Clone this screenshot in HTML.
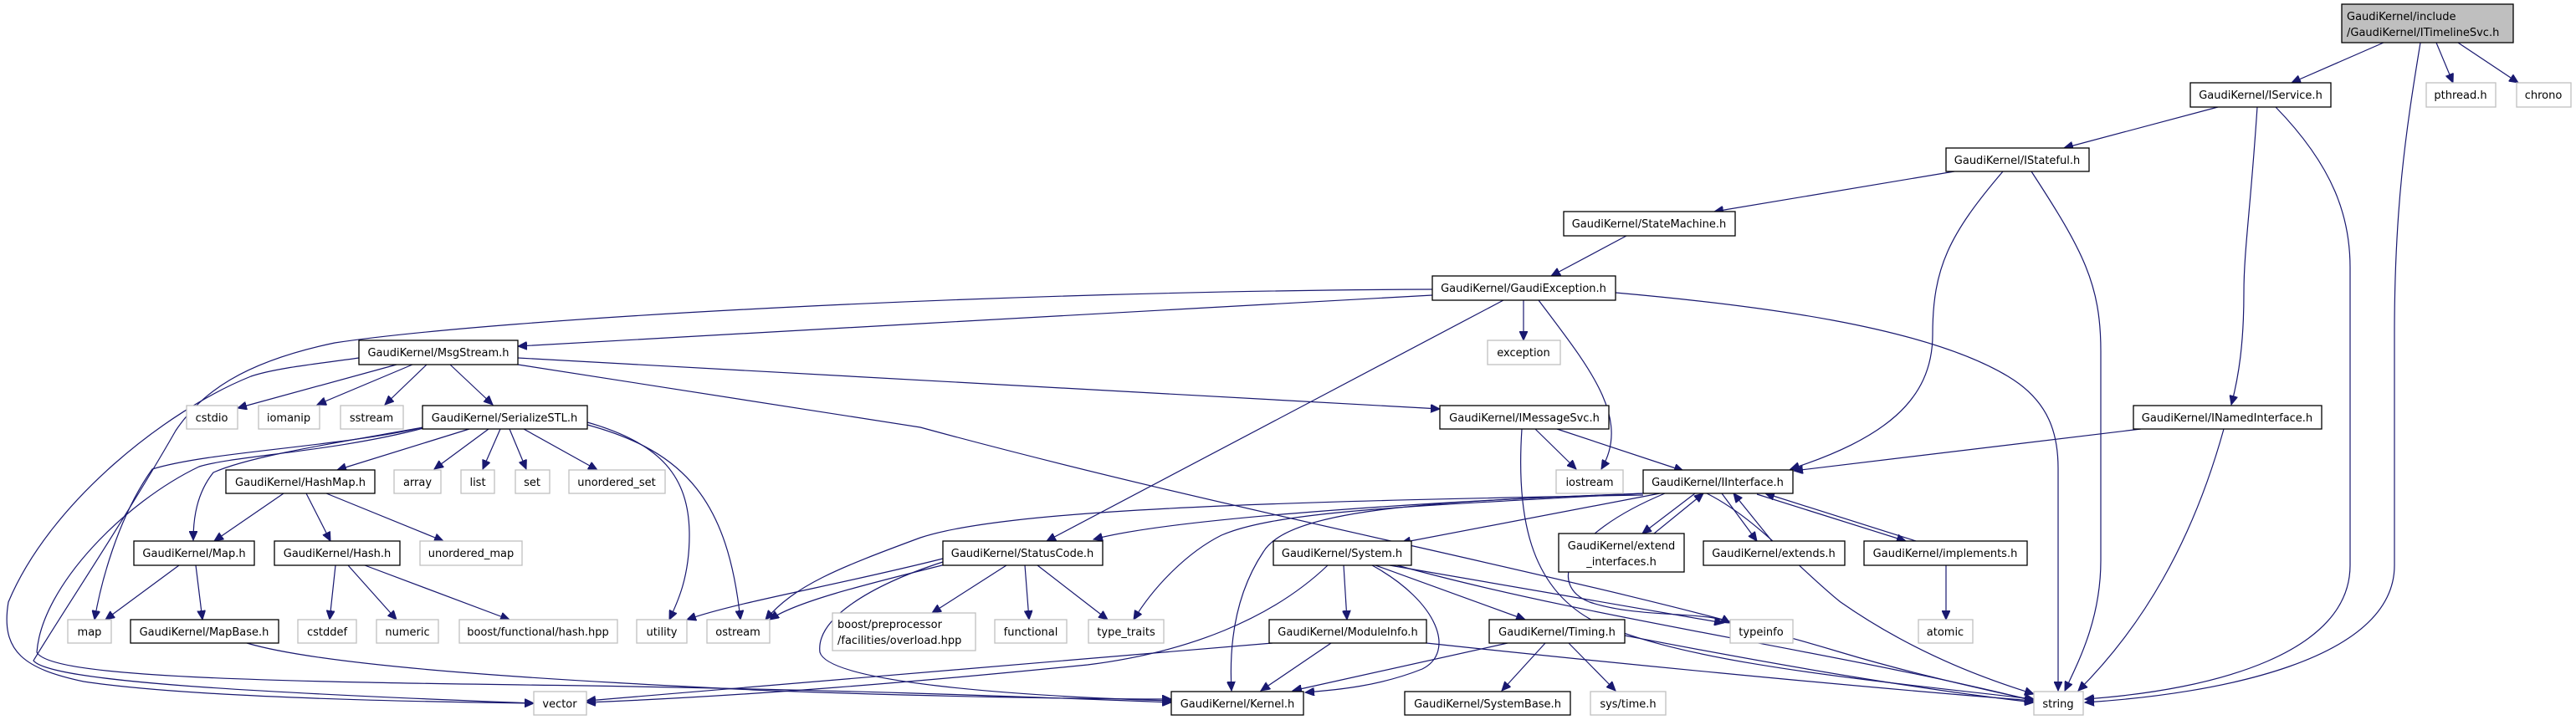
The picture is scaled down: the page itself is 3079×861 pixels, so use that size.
<!DOCTYPE html>
<html><head><meta charset="utf-8"><style>
html,body{margin:0;padding:0;background:#fff}
svg{display:block}
text{font-family:"DejaVu Sans","Liberation Sans",sans-serif;font-size:13px;fill:#000}
.b{fill:#fff;stroke:#000;stroke-width:1.3}
.g{fill:#fff;stroke:#bfbfbf;stroke-width:1.3}
.r{fill:#bfbfbf;stroke:#000;stroke-width:1.3}
path.e{fill:none;stroke:#191970;stroke-width:1.2;marker-end:url(#a)}
</style></head><body>
<svg width="3079" height="861" viewBox="0 0 3079 861" xmlns="http://www.w3.org/2000/svg">
<defs><marker id="a" markerUnits="userSpaceOnUse" markerWidth="12" markerHeight="10" refX="11" refY="5" orient="auto"><path d="M0,0 L11,5 L0,10 z" fill="#191970" stroke="#191970"/></marker></defs>

<!-- edges -->
<path class="e" d="M2849,51 L2739,99"/>
<path class="e" d="M2912,51 L2932,99"/>
<path class="e" d="M2938,51 L3010,99"/>
<path class="e" d="M2893,51 C2875,160 2862,250 2862,400 L2862,676 C2862,790 2650,830 2492,840"/>
<path class="e" d="M2651,128 L2467,177"/>
<path class="e" d="M2698,128 C2690,250 2682,300 2682,350 C2682,410 2676,450 2667,484"/>
<path class="e" d="M2720,128 C2790,200 2809,260 2809,320 L2809,676 C2809,780 2650,825 2492,836"/>
<path class="e" d="M2336,205 L2049,253"/>
<path class="e" d="M2394,205 C2330,280 2310,320 2310,400 C2310,480 2250,525 2140,561"/>
<path class="e" d="M2428,205 C2490,300 2511,340 2511,420 L2511,670 C2511,740 2485,790 2468,826"/>
<path class="e" d="M1944,282 L1854,330"/>
<path class="e" d="M1821,359 L1821,407"/>
<path class="e" d="M1839,359 C1900,440 1950,500 1914,561"/>
<path class="e" d="M1797,359 L1251,647"/>
<path class="e" d="M1931,350 C2100,365 2300,390 2400,450 C2450,480 2460,520 2460,560 L2460,826"/>
<path class="e" d="M1712,353 L1100,387 L619,414"/>
<path class="e" d="M1712,346 C1200,348 600,380 400,410 C290,433 240,470 210,515 C150,620 70,740 40,790 C60,815 300,828 638,841"/>
<path class="e" d="M429,428 C380,435 330,440 300,450 C200,490 60,600 10,720 C0,780 30,800 100,815 C200,830 400,838 638,841"/>
<path class="e" d="M474,436 L284,488"/>
<path class="e" d="M493,436 L379,484"/>
<path class="e" d="M510,436 L460,484"/>
<path class="e" d="M538,436 L589,484"/>
<path class="e" d="M619,428 L1721,489"/>
<path class="e" d="M619,436 L1100,511 C1500,620 1900,690 2200,780 C2300,810 2400,830 2431,838"/>
<path class="e" d="M561,513 L403,562"/>
<path class="e" d="M584,513 L519,561"/>
<path class="e" d="M598,513 L577,561"/>
<path class="e" d="M609,513 L629,561"/>
<path class="e" d="M626,513 L714,562"/>
<path class="e" d="M702,505 C790,530 824,570 824,640 C824,690 810,720 800,741"/>
<path class="e" d="M702,508 C820,540 870,600 885,741"/>
<path class="e" d="M506,511 C400,530 300,545 255,565 C235,590 231,620 231,646"/>
<path class="e" d="M506,511 C400,535 250,540 182,561 C140,620 120,700 113,741"/>
<path class="e" d="M506,512 C400,540 280,545 238,558 C150,600 50,700 44,780 C60,810 300,815 700,820 C1000,825 1200,832 1400,840"/>
<path class="e" d="M339,590 L256,647"/>
<path class="e" d="M366,590 L395,647"/>
<path class="e" d="M390,590 L530,647"/>
<path class="e" d="M214,676 L126,741"/>
<path class="e" d="M234,676 L242,741"/>
<path class="e" d="M401,676 L394,741"/>
<path class="e" d="M416,676 L474,741"/>
<path class="e" d="M436,676 L609,741"/>
<path class="e" d="M295,769 C400,800 700,815 900,825 C1100,833 1300,836 1400,836"/>
<path class="e" d="M1203,676 L1114,733"/>
<path class="e" d="M1225,676 L1230,741"/>
<path class="e" d="M1240,676 L1324,741"/>
<path class="e" d="M1127,668 C1000,700 880,720 821,741"/>
<path class="e" d="M1130,675 C1030,700 950,720 920,741"/>
<path class="e" d="M1127,672 C1040,700 975,740 980,780 C990,815 1200,832 1400,838"/>
<path class="e" d="M1964,590 C1700,600 1400,620 1307,645"/>
<path class="e" d="M1984,590 L1675,649"/>
<path class="e" d="M2026,590 L1963,638"/>
<path class="e" d="M1977,638 L2036,590"/>
<path class="e" d="M2058,590 L2100,647"/>
<path class="e" d="M2118,647 L2072,590"/>
<path class="e" d="M2100,591 L2278,647"/>
<path class="e" d="M2290,647 L2110,590"/>
<path class="e" d="M1990,590 C1870,640 1850,700 1900,720 C1960,740 2040,730 2068,745"/>
<path class="e" d="M1942,591 C1700,600 1540,610 1510,660 C1470,720 1470,790 1472,826"/>
<path class="e" d="M1963,590 C1700,605 1530,610 1460,640 C1420,660 1380,700 1355,741"/>
<path class="e" d="M1964,592 C1500,600 1200,610 1100,643 C1000,680 950,700 915,741"/>
<path class="e" d="M2040,590 C2100,620 2150,680 2200,720 C2300,790 2400,820 2431,830"/>
<path class="e" d="M1835,513 L1884,561"/>
<path class="e" d="M1861,513 L2012,563"/>
<path class="e" d="M1819,513 C1812,620 1830,700 1900,740 C2000,790 2200,810 2431,836"/>
<path class="e" d="M1606,676 L1610,741"/>
<path class="e" d="M1644,676 L1823,741"/>
<path class="e" d="M1640,676 C1720,720 1740,780 1700,800 C1650,820 1600,825 1560,828"/>
<path class="e" d="M1661,676 L2060,745"/>
<path class="e" d="M1670,676 C1900,740 2200,780 2431,838"/>
<path class="e" d="M1587,676 C1520,740 1420,780 1300,795 C1100,815 900,832 701,840"/>
<path class="e" d="M1521,769 C1300,790 1000,815 701,838"/>
<path class="e" d="M1591,769 L1507,826"/>
<path class="e" d="M1705,769 C1900,790 2200,820 2431,838"/>
<path class="e" d="M1802,769 L1545,826"/>
<path class="e" d="M1847,769 L1795,826"/>
<path class="e" d="M1875,769 L1931,826"/>
<path class="e" d="M1942,760 C2150,800 2300,825 2431,840"/>
<path class="e" d="M2559,513 L2144,563"/>
<path class="e" d="M2658,513 C2620,650 2560,750 2484,826"/>
<path class="e" d="M2326,676 L2326,741"/>

<!-- nodes -->
<rect class="r" x="2799" y="5" width="205" height="46"/>
<text x="2805" y="24">GaudiKernel/include</text>
<text x="2805" y="43">/GaudiKernel/ITimelineSvc.h</text>

<g text-anchor="middle">
<rect class="b" x="2618" y="99" width="168" height="29"/><text x="2702" y="118">GaudiKernel/IService.h</text>
<rect class="g" x="2900" y="99" width="83" height="29"/><text x="2941" y="118">pthread.h</text>
<rect class="g" x="3008" y="99" width="65" height="29"/><text x="3040" y="118">chrono</text>
<rect class="b" x="2326" y="177" width="171" height="28"/><text x="2411" y="196">GaudiKernel/IStateful.h</text>
<rect class="b" x="1869" y="253" width="205" height="29"/><text x="1971" y="272">GaudiKernel/StateMachine.h</text>
<rect class="b" x="1712" y="330" width="219" height="29"/><text x="1821" y="349">GaudiKernel/GaudiException.h</text>

<rect class="b" x="429" y="407" width="190" height="29"/><text x="524" y="426">GaudiKernel/MsgStream.h</text>
<rect class="g" x="1778" y="407" width="87" height="29"/><text x="1821" y="426">exception</text>

<rect class="g" x="223" y="485" width="61" height="28"/><text x="253" y="504">cstdio</text>
<rect class="g" x="309" y="485" width="73" height="28"/><text x="345" y="504">iomanip</text>
<rect class="g" x="407" y="485" width="75" height="28"/><text x="444" y="504">sstream</text>
<rect class="b" x="505" y="485" width="197" height="28"/><text x="603" y="504">GaudiKernel/SerializeSTL.h</text>
<rect class="b" x="1721" y="485" width="202" height="28"/><text x="1822" y="504">GaudiKernel/IMessageSvc.h</text>
<rect class="b" x="2550" y="485" width="225" height="28"/><text x="2662" y="504">GaudiKernel/INamedInterface.h</text>

<rect class="b" x="270" y="562" width="178" height="28"/><text x="359" y="581">GaudiKernel/HashMap.h</text>
<rect class="g" x="471" y="562" width="56" height="28"/><text x="499" y="581">array</text>
<rect class="g" x="551" y="562" width="40" height="28"/><text x="571" y="581">list</text>
<rect class="g" x="616" y="562" width="41" height="28"/><text x="636" y="581">set</text>
<rect class="g" x="680" y="562" width="115" height="28"/><text x="737" y="581">unordered_set</text>
<rect class="g" x="1860" y="562" width="80" height="28"/><text x="1900" y="581">iostream</text>
<rect class="b" x="1964" y="562" width="179" height="28"/><text x="2053" y="581">GaudiKernel/IInterface.h</text>

<rect class="b" x="160" y="647" width="144" height="29"/><text x="232" y="666">GaudiKernel/Map.h</text>
<rect class="b" x="328" y="647" width="150" height="29"/><text x="403" y="666">GaudiKernel/Hash.h</text>
<rect class="g" x="502" y="647" width="122" height="29"/><text x="563" y="666">unordered_map</text>
<rect class="b" x="1127" y="647" width="191" height="29"/><text x="1222" y="666">GaudiKernel/StatusCode.h</text>
<rect class="b" x="1522" y="647" width="165" height="29"/><text x="1604" y="666">GaudiKernel/System.h</text>
<rect class="b" x="1863" y="638" width="150" height="46"/><text x="1938" y="657">GaudiKernel/extend</text><text x="1938" y="676">_interfaces.h</text>
<rect class="b" x="2036" y="647" width="169" height="29"/><text x="2120" y="666">GaudiKernel/extends.h</text>
<rect class="b" x="2228" y="647" width="195" height="29"/><text x="2325" y="666">GaudiKernel/implements.h</text>

<rect class="g" x="81" y="741" width="52" height="28"/><text x="107" y="760">map</text>
<rect class="b" x="156" y="741" width="177" height="28"/><text x="244" y="760">GaudiKernel/MapBase.h</text>
<rect class="g" x="356" y="741" width="70" height="28"/><text x="391" y="760">cstddef</text>
<rect class="g" x="450" y="741" width="74" height="28"/><text x="487" y="760">numeric</text>
<rect class="g" x="549" y="741" width="189" height="28"/><text x="643" y="760">boost/functional/hash.hpp</text>
<rect class="g" x="761" y="741" width="60" height="28"/><text x="791" y="760">utility</text>
<rect class="g" x="845" y="741" width="75" height="28"/><text x="882" y="760">ostream</text>
<rect class="g" x="995" y="733" width="171" height="45"/>
<text x="1001" y="751" text-anchor="start">boost/preprocessor</text><text x="1001" y="770" text-anchor="start">/facilities/overload.hpp</text>
<rect class="g" x="1189" y="741" width="86" height="28"/><text x="1232" y="760">functional</text>
<rect class="g" x="1301" y="741" width="90" height="28"/><text x="1346" y="760">type_traits</text>
<rect class="b" x="1517" y="741" width="188" height="28"/><text x="1611" y="760">GaudiKernel/ModuleInfo.h</text>
<rect class="b" x="1780" y="741" width="162" height="28"/><text x="1861" y="760">GaudiKernel/Timing.h</text>
<rect class="g" x="2068" y="741" width="75" height="28"/><text x="2105" y="760">typeinfo</text>
<rect class="g" x="2293" y="741" width="65" height="28"/><text x="2325" y="760">atomic</text>

<rect class="g" x="638" y="827" width="63" height="28"/><text x="669" y="846">vector</text>
<rect class="b" x="1400" y="827" width="158" height="28"/><text x="1479" y="846">GaudiKernel/Kernel.h</text>
<rect class="b" x="1679" y="827" width="198" height="28"/><text x="1778" y="846">GaudiKernel/SystemBase.h</text>
<rect class="g" x="1901" y="827" width="90" height="28"/><text x="1946" y="846">sys/time.h</text>
<rect class="g" x="2431" y="827" width="59" height="28"/><text x="2460" y="846">string</text>
</g>
</svg>
</body></html>
